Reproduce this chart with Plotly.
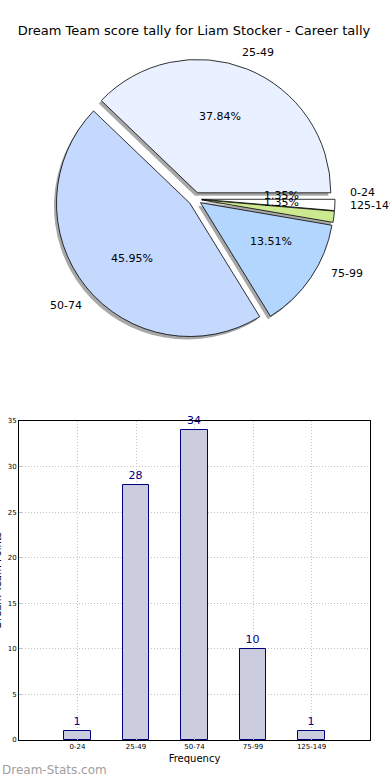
import math
import plotly.graph_objects as go

categories = ["0-24", "25-49", "50-74", "75-99", "125-149"]
counts = [1, 28, 34, 10, 1]
pie_colors = ["#ffffff", "#e9f0ff", "#c5d9ff", "#b3d6ff", "#cde98f"]
bar_fill = "#ccccdf"
bar_edge = "#000080"
title_text = "Dream Team score tally for Liam Stocker - Career tally"
y_title = "Dream Team Points"
x_title = "Frequency"
watermark = "Dream-Stats.com"

W, H = 390, 780
ML, MR, MT, MB = 19, 20, 0, 40
PW, PH = W - ML - MR, H - MT - MB

PULL = 0.05
pull = [PULL] * len(counts)
cx_px, cy_px, half = 195, 199, 140
R = half / (1 + PULL)  # plotly pie radius inside its box
BAR_TOP_PX = 421


def dom(h, dx=0.0, dy=0.0):
    return dict(x=[(cx_px - ML - h) / PW + dx, (cx_px - ML + h) / PW + dx],
                y=[(PH - cy_px - h) / PH + dy, (PH - cy_px + h) / PH + dy])


sdx, sdy = -2.5 / PW, -3 / PH

fig = go.Figure()
# shadow
fig.add_trace(go.Pie(
    labels=categories, values=counts, sort=False, direction="counterclockwise",
    rotation=90, pull=pull, textinfo="none", hoverinfo="skip",
    marker=dict(colors=["rgba(110,110,110,0.6)"] * len(counts), line=dict(width=0)),
    domain=dom(half, sdx, sdy), showlegend=False,
))
# main pie
fig.add_trace(go.Pie(
    labels=categories, values=counts, sort=False, direction="counterclockwise",
    rotation=90, pull=pull, textinfo="none",
    marker=dict(colors=pie_colors, line=dict(color="black", width=0.8)),
    domain=dom(half), showlegend=False,
))

# text placed like matplotlib: percentages at 0.6 r, labels at 1.1 r (plus explode offset)
annotations = []
total = sum(counts)
start = 0.0
for lab, v in zip(categories, counts):
    frac = v / total
    mid = math.radians((start + frac / 2) * 360)
    start += frac
    c, s = math.cos(mid), math.sin(mid)
    for dist, txt, anchor in [(0.6 + PULL, f"{frac * 100:.2f}%", "center"),
                              (1.1 + PULL, lab, "left" if c > 0 else "right")]:
        px = cx_px + dist * R * c
        py = cy_px - dist * R * s
        annotations.append(dict(
            text=txt, xref="paper", yref="paper",
            x=(px - ML) / PW, y=(PH - py) / PH, xanchor=anchor, yanchor="middle",
            showarrow=False, font=dict(family="DejaVu Sans", size=11, color="black")))

fig.add_trace(go.Bar(
    x=categories, y=counts, width=0.45, text=counts, textposition="outside",
    textfont=dict(family="DejaVu Sans", size=11, color=bar_edge),
    marker=dict(color=bar_fill, line=dict(color=bar_edge, width=1)),
    cliponaxis=False, showlegend=False,
))

axis_common = dict(
    showline=True, linecolor="black", linewidth=1, mirror=True,
    showgrid=True, gridcolor="#c4c4c4", griddash="1px,2px", gridwidth=1,
    ticks="inside", ticklen=3, tickcolor="#c0c0c0",
    tickfont=dict(family="DejaVu Sans", size=7, color="black"),
    zeroline=False, automargin=False,
)

ydom_top = 1 - BAR_TOP_PX / PH
# y-axis title: sits at the left page edge, mostly cut off as in the reference
annotations.append(dict(text=y_title, xref="paper", yref="paper", textangle=-90,
                        x=(-3 - ML) / PW, y=ydom_top / 2, xanchor="center", yanchor="middle",
                        showarrow=False,
                        font=dict(family="DejaVu Sans", size=10, color="black")))
annotations.append(dict(text=watermark, xref="paper", yref="paper",
                        x=-ML / PW, y=-(770 - PH) / PH, xanchor="left", yanchor="middle",
                        showarrow=False,
                        font=dict(family="DejaVu Sans", size=12, color="#a0a0a0")))

fig.update_layout(
    width=W, height=H, margin=dict(l=ML, r=MR, t=MT, b=MB, autoexpand=False),
    paper_bgcolor="white", plot_bgcolor="white",
    font=dict(family="DejaVu Sans", color="black"),
    title=dict(text=title_text, xref="container", x=194 / W, xanchor="center",
               y=1 - 30 / H, yanchor="middle",
               font=dict(family="DejaVu Sans", size=13, color="black")),
    xaxis=dict(axis_common, type="category", range=[-1, 5],
               title=dict(text=x_title, standoff=4, font=dict(size=10))),
    yaxis=dict(axis_common, range=[0, 35], dtick=5, domain=[0, ydom_top]),
    bargap=0,
    annotations=annotations,
)

fig.write_html("out.html", config={"displayModeBar": False},
               post_script="document.body.style.margin='0';document.body.style.padding='0';")
